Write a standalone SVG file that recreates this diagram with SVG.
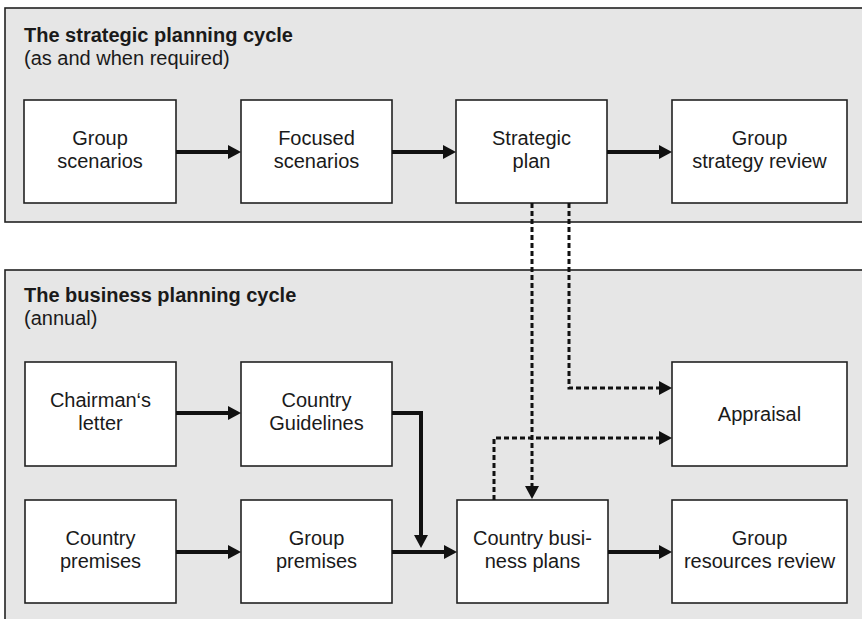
<svg xmlns="http://www.w3.org/2000/svg" width="862" height="619" viewBox="0 0 862 619">
  <style>
    .panel { fill: #e6e6e6; stroke: #222; stroke-width: 1.6; }
    .box { fill: #fff; stroke: #222; stroke-width: 1.6; }
    text { font-family: "Liberation Sans", Arial, sans-serif; font-size: 20px; fill: #1a1a1a; }
    .title { font-weight: bold; }
    .lbl { text-anchor: middle; }
    .flow { fill: none; stroke: #111; stroke-width: 4; }
    .dash { fill: none; stroke: #111; stroke-width: 3; stroke-dasharray: 5 3; }
  </style>
  <defs>
    <marker id="head" viewBox="0 0 13 14" refX="0" refY="7" markerWidth="13" markerHeight="14" markerUnits="userSpaceOnUse" orient="auto">
      <path d="M0,0 L13,7 L0,14 z" fill="#111"/>
    </marker>
    <marker id="headDash" viewBox="0 0 13 14" refX="0" refY="7" markerWidth="13" markerHeight="14" markerUnits="userSpaceOnUse" orient="auto">
      <path d="M0,0 L13,7 L0,14 z" fill="#111"/>
    </marker>
  </defs>

  <!-- cycle panels -->
  <g id="strategic-cycle">
    <rect class="panel" x="5" y="8" width="870" height="214"/>
    <text class="title" x="24" y="42">The strategic planning cycle</text>
    <text x="24" y="65">(as and when required)</text>
  </g>
  <g id="business-cycle">
    <rect class="panel" x="5" y="270" width="870" height="360"/>
    <text class="title" x="24" y="302">The business planning cycle</text>
    <text x="24" y="325">(annual)</text>
  </g>

  <!-- strategic nodes -->
  <g id="group-scenarios">
    <rect class="box" x="24" y="100" width="152" height="103"/>
    <text class="lbl" x="100" y="145">Group</text>
    <text class="lbl" x="100" y="168">scenarios</text>
  </g>
  <g id="focused-scenarios">
    <rect class="box" x="241" y="100" width="151" height="103"/>
    <text class="lbl" x="316.5" y="145">Focused</text>
    <text class="lbl" x="316.5" y="168">scenarios</text>
  </g>
  <g id="strategic-plan">
    <rect class="box" x="456" y="100" width="151" height="103"/>
    <text class="lbl" x="531.5" y="145">Strategic</text>
    <text class="lbl" x="531.5" y="168">plan</text>
  </g>
  <g id="group-strategy-review">
    <rect class="box" x="672" y="100" width="175" height="103"/>
    <text class="lbl" x="759.5" y="145">Group</text>
    <text class="lbl" x="759.5" y="168">strategy review</text>
  </g>

  <!-- business nodes -->
  <g id="chairmans-letter">
    <rect class="box" x="25" y="362" width="151" height="104"/>
    <text class="lbl" x="100.5" y="407">Chairman‘s</text>
    <text class="lbl" x="100.5" y="430">letter</text>
  </g>
  <g id="country-guidelines">
    <rect class="box" x="241" y="362" width="151" height="104"/>
    <text class="lbl" x="316.5" y="407">Country</text>
    <text class="lbl" x="316.5" y="430">Guidelines</text>
  </g>
  <g id="appraisal">
    <rect class="box" x="672" y="362" width="175" height="104"/>
    <text class="lbl" x="759.5" y="421">Appraisal</text>
  </g>
  <g id="country-premises">
    <rect class="box" x="25" y="500" width="151" height="103"/>
    <text class="lbl" x="100.5" y="545">Country</text>
    <text class="lbl" x="100.5" y="568">premises</text>
  </g>
  <g id="group-premises">
    <rect class="box" x="241" y="500" width="151" height="103"/>
    <text class="lbl" x="316.5" y="545">Group</text>
    <text class="lbl" x="316.5" y="568">premises</text>
  </g>
  <g id="country-business-plans">
    <rect class="box" x="457" y="500" width="151" height="103"/>
    <text class="lbl" x="532.5" y="545">Country busi-</text>
    <text class="lbl" x="532.5" y="568">ness plans</text>
  </g>
  <g id="group-resources-review">
    <rect class="box" x="672" y="500" width="175" height="103"/>
    <text class="lbl" x="759.5" y="545">Group</text>
    <text class="lbl" x="759.5" y="568">resources review</text>
  </g>

  <!-- connectors -->
  <g id="connectors">
    <path class="flow" d="M176,152 H228" marker-end="url(#head)"/>
    <path class="flow" d="M392,152 H443" marker-end="url(#head)"/>
    <path class="flow" d="M607,152 H659" marker-end="url(#head)"/>
    <path class="flow" d="M176,413 H228" marker-end="url(#head)"/>
    <path class="flow" d="M176,552 H228" marker-end="url(#head)"/>
    <path class="flow" d="M392,552 H444" marker-end="url(#head)"/>
    <path class="flow" d="M392,413 H421 V535" marker-end="url(#head)"/>
    <path class="flow" d="M608,552 H659" marker-end="url(#head)"/>
    <path class="dash" d="M532,203 V486" marker-end="url(#headDash)"/>
    <path class="dash" d="M569,203 V388 H659" marker-end="url(#headDash)"/>
    <path class="dash" d="M494,500 V438 H659" marker-end="url(#headDash)"/>
  </g>
</svg>
